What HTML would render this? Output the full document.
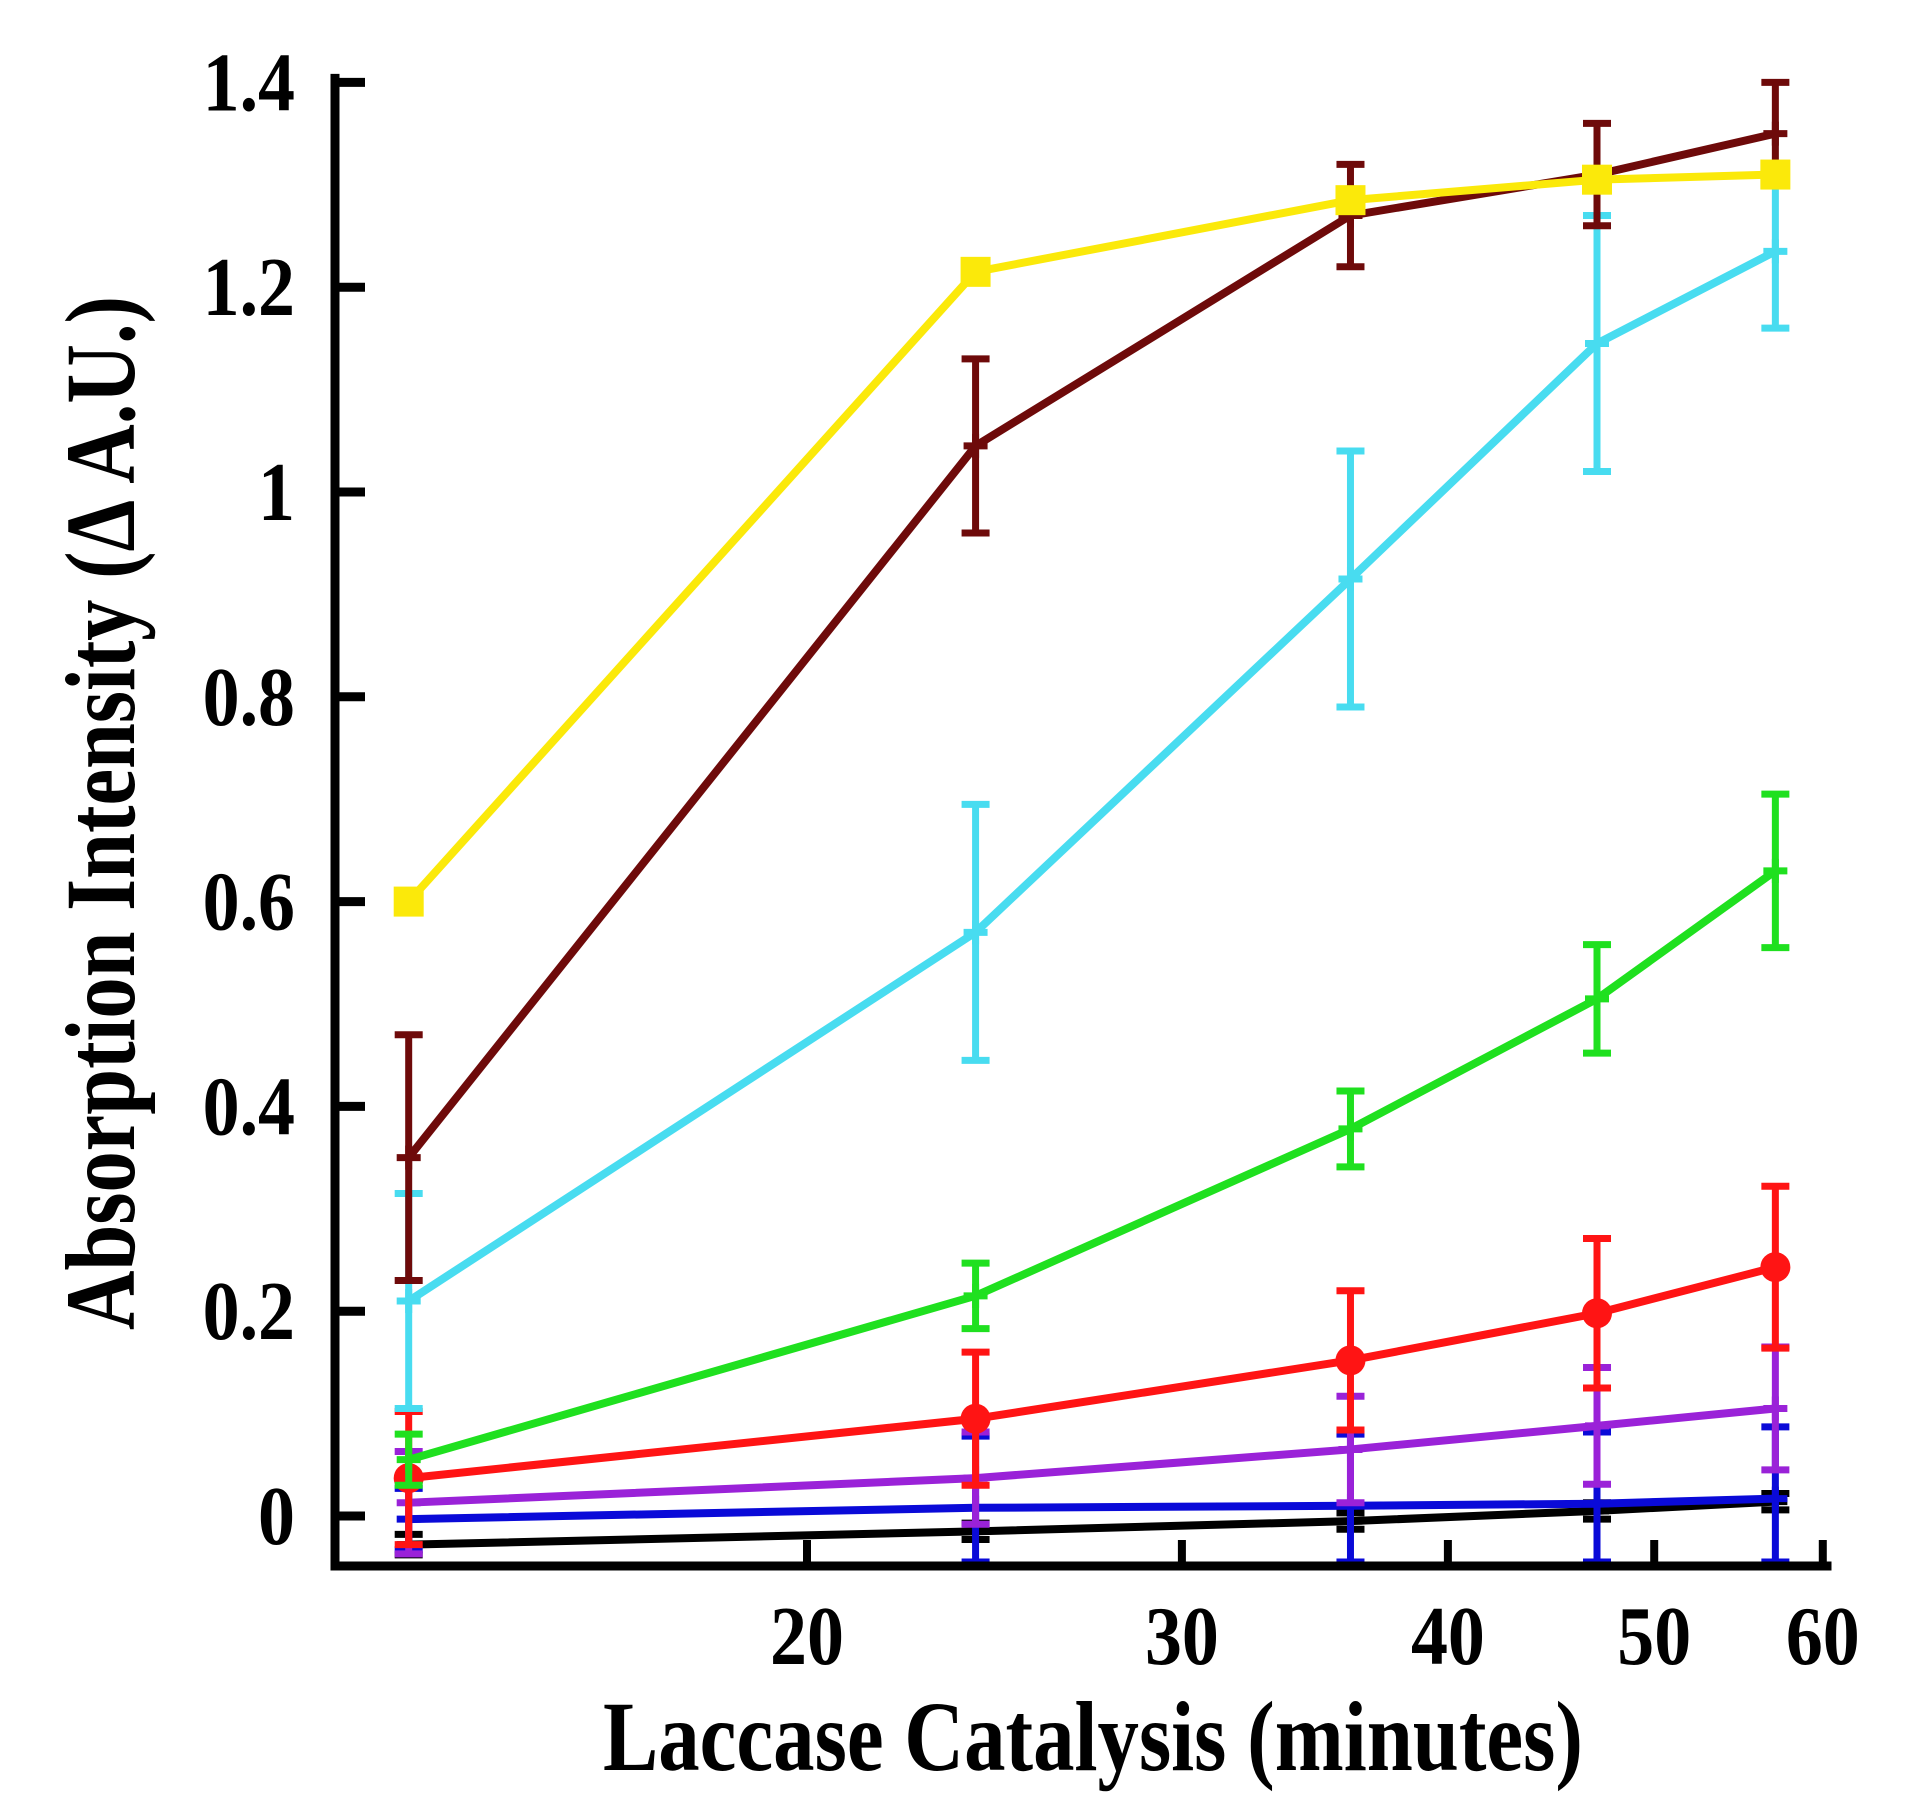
<!DOCTYPE html>
<html><head><meta charset="utf-8"><style>
html,body{margin:0;padding:0;background:#fff;}
svg{display:block;}
text{font-family:"Liberation Serif",serif;font-weight:bold;fill:#000;}
</style></head><body>
<svg id="chart" width="1931" height="1817" viewBox="0 0 1931 1817" xmlns="http://www.w3.org/2000/svg">
<g id="plot"></g>
<g id="axes"></g>
</svg>
<script>
const times = [13, 24, 36, 47, 57];
const xTicks = [20, 30, 40, 50, 60];
const yTicks = [0, 0.2, 0.4, 0.6, 0.8, 1, 1.2, 1.4];
const yTickLabels = ["0", "0.2", "0.4", "0.6", "0.8", "1", "1.2", "1.4"];
const yellowVals = [0.60, 1.215, 1.285, 1.305, 1.31];
const brownVals = [0.35, 1.045, 1.27, 1.31, 1.35];
const brownErr = [0.12, 0.085, 0.05, 0.05, 0.05];
const cyanVals = [0.21, 0.57, 0.915, 1.145, 1.235];
const cyanErr = [0.105, 0.125, 0.125, 0.125, 0.075];
const greenVals = [0.055, 0.215, 0.378, 0.505, 0.63];
const greenErr = [0.025, 0.032, 0.037, 0.053, 0.075];
const redVals = [0.037, 0.095, 0.152, 0.198, 0.243];
const redErr = [0.065, 0.065, 0.068, 0.073, 0.079];
const purpleVals = [0.013, 0.037, 0.065, 0.088, 0.105];
const purpleErr = [0.05, 0.045, 0.052, 0.057, 0.06];
const blueVals = [-0.003, 0.008, 0.010, 0.012, 0.017];
const blueErr = [0.03, 0.07, 0.07, 0.07, 0.07];
const blackVals = [-0.028, -0.015, -0.005, 0.005, 0.014];
const blackErr = [0.01, 0.008, 0.008, 0.008, 0.008];

const NS = "http://www.w3.org/2000/svg";
const X0 = 335, XEND = 1827, Y_AXIS = 1566;
function xPos(t){ return 807 + (Math.log10(t) - Math.log10(20)) * 2129; }
function yPos(v){ return 1516 - v * 1024; }
const clampY = y => Math.min(y, Y_AXIS - 4);

const plot = document.getElementById('plot');
const axes = document.getElementById('axes');
function mk(tag, attrs, parent){
  const e = document.createElementNS(NS, tag);
  for (const k in attrs) e.setAttribute(k, attrs[k]);
  parent.appendChild(e);
  return e;
}

function series(name, vals, errs, color, marker){
  const g = mk('g', {}, plot);
  
  
  if (errs){
    vals.forEach((v,i)=>{
      const x = xPos(times[i]);
      const y1 = clampY(yPos(v + errs[i])), y2 = clampY(yPos(v - errs[i]));
      const eb = mk('path', {d:`M${x},${y1}V${y2}M${x-14},${y1}H${x+14}M${x-14},${y2}H${x+14}`, stroke:color, 'stroke-width':7, fill:'none'}, g);
      
      
    });
  }
  const pts = vals.map((v,i)=>xPos(times[i]) + ',' + yPos(v)).join(' ');
  const line = mk('polyline', {points:pts, fill:'none', stroke:color, 'stroke-width':8, 'stroke-linejoin':'round'}, g);
  
  
  vals.forEach((v,i)=>{
    const x = xPos(times[i]), y = yPos(v);
    let m;
    if (marker === 'square') m = mk('rect', {x:x-15, y:y-15, width:30, height:30, fill:color}, g);
    else if (marker === 'circle') m = mk('circle', {cx:x, cy:y, r:15, fill:color}, g);
    else m = mk('path', {d:`M${x-12},${y}H${x+12}M${x},${y-12}V${y+12}`, stroke:color, 'stroke-width':7}, g);
    
    
  });
}
series('black', blackVals, blackErr, '#000000', 'cross');
series('blue', blueVals, blueErr, '#0a0ad8', 'cross');
series('purple', purpleVals, purpleErr, '#9a22d8', 'cross');
series('red', redVals, redErr, '#ff1414', 'circle');
series('green', greenVals, greenErr, '#1fe01f', 'cross');
series('cyan', cyanVals, cyanErr, '#48dcf0', 'cross');
series('brown', brownVals, brownErr, '#6e0a0a', 'cross');
series('yellow', yellowVals, null, '#fbe90a', 'square');

// axes
const ax = mk('path', {d:`M${X0},${yPos(1.4)-4}V${Y_AXIS}H${XEND}`, stroke:'#000', 'stroke-width':9, fill:'none', 'stroke-linecap':'square'}, axes);


yTicks.forEach((v,i)=>{
  const y = yPos(v);
  const t = mk('line', {x1:X0, x2:X0+30, y1:y, y2:y, stroke:'#000', 'stroke-width':9}, axes);
  
  
  const l = mk('text', {x:0, y:0, 'text-anchor':'end', 'font-size':84, transform:`translate(295,${y+28}) scale(0.88,1)`}, axes);
  l.textContent = yTickLabels[i];
  
  
});
xTicks.forEach(v=>{
  const x = xPos(v);
  const t = mk('line', {x1:x, x2:x, y1:Y_AXIS, y2:Y_AXIS-26, stroke:'#000', 'stroke-width':8}, axes);
  
  
  const l = mk('text', {x:0, y:0, 'text-anchor':'middle', 'font-size':84, transform:`translate(${x},1664) scale(0.88,1)`}, axes);
  l.textContent = String(v);
  
  
});
const xt = mk('text', {x:1093, y:1770, 'text-anchor':'middle', 'font-size':100, textLength:980, lengthAdjust:'spacingAndGlyphs'}, axes);
xt.textContent = 'Laccase Catalysis (minutes)';


const yt = mk('text', {x:0, y:0, 'text-anchor':'middle', 'font-size':100, textLength:1034, lengthAdjust:'spacingAndGlyphs', transform:'translate(134,813) rotate(-90)'}, axes);
yt.textContent = 'Absorption Intensity (Δ A.U.)';


</script>
</body></html>
